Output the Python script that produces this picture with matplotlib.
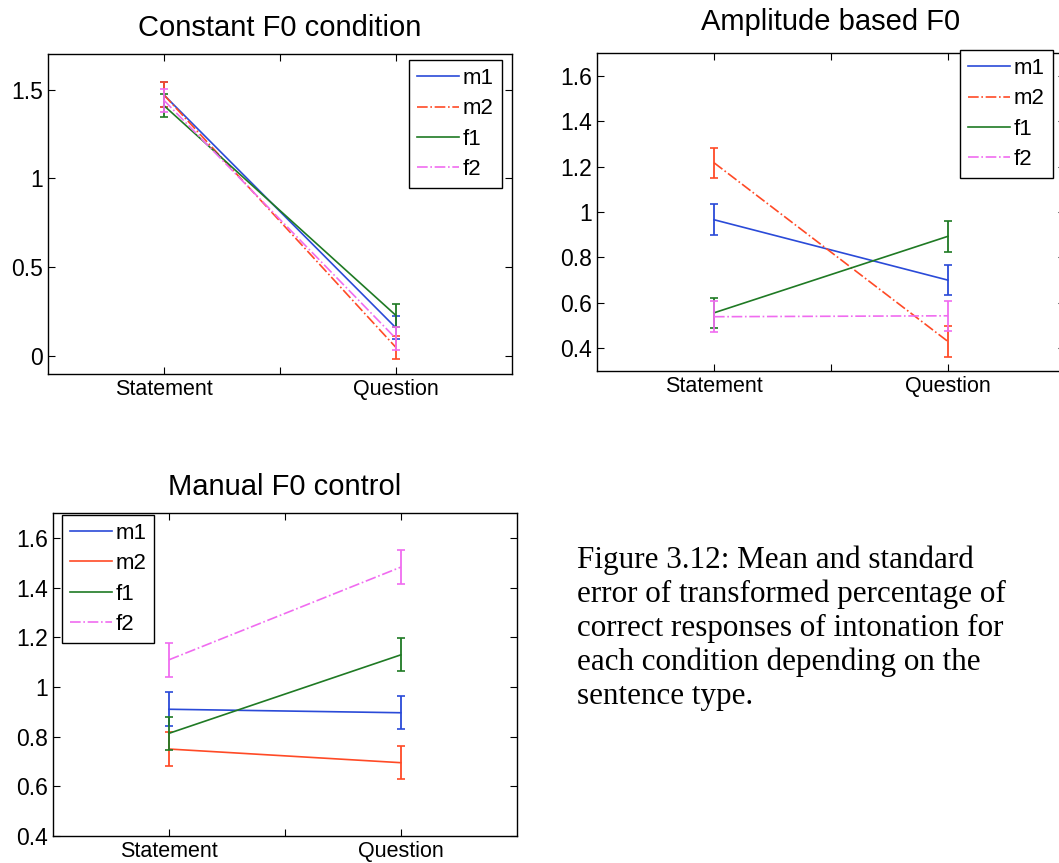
import matplotlib
matplotlib.use("Agg")
import matplotlib.pyplot as plt

plt.rcParams['font.family'] = ['Liberation Sans', 'DejaVu Sans']

# Data
conditions = ["Statement", "Question"]
speakers = ["m1", "m2", "f1", "f2"]

const_mean = {"m1": [1.47, 0.16], "m2": [1.47, 0.05], "f1": [1.41, 0.23], "f2": [1.44, 0.10]}
const_err = {"m1": [0.07, 0.065], "m2": [0.07, 0.065], "f1": [0.065, 0.065], "f2": [0.065, 0.065]}

ampl_mean = {"m1": [0.966, 0.70], "m2": [1.217, 0.43], "f1": [0.556, 0.893], "f2": [0.539, 0.543]}
ampl_err = {"m1": [0.067, 0.067], "m2": [0.066, 0.067], "f1": [0.066, 0.067], "f2": [0.067, 0.067]}

manual_mean = {"m1": [0.91, 0.896], "m2": [0.75, 0.695], "f1": [0.813, 1.129], "f2": [1.109, 1.482]}
manual_err = {"m1": [0.068, 0.066], "m2": [0.067, 0.066], "f1": [0.067, 0.066], "f2": [0.068, 0.067]}

colors = {"m1": "#2a4ad8", "m2": "#ff4a26", "f1": "#1f7a24", "f2": "#f06cf0"}

caption = ("Figure 3.12: Mean and standard\n"
           "error of transformed percentage of\n"
           "correct responses of intonation for\n"
           "each condition depending on the\n"
           "sentence type.")

fig = plt.figure(figsize=(10.59, 8.63), dpi=100)


def panel(rect, title, means, errs, styles, ylim, yticks, yticklabels, leg_loc, leg_anchor, pad=13):
    ax = fig.add_axes(rect)
    x = [1, 2]
    for s in speakers:
        ax.plot(x, means[s], color=colors[s], linestyle=styles[s], linewidth=1.2, label=s)
        ax.errorbar(x, means[s], yerr=errs[s], fmt='none', ecolor=colors[s],
                    elinewidth=1.3, capsize=3, capthick=1.2)
    ax.set_xlim(0.5, 2.5)
    ax.set_ylim(*ylim)
    ax.set_xticks([1, 1.5, 2])
    ax.set_xticklabels(["Statement", "", "Question"], fontsize=15.5)
    ax.set_yticks(yticks)
    ax.set_yticklabels(yticklabels, fontsize=16.5)
    ax.tick_params(direction="in", top=True, right=True, length=5, width=0.8)
    for sp in ax.spines.values():
        sp.set_linewidth(1.0)
    ax.set_title(title, fontsize=21, pad=pad)
    leg = ax.legend(loc=leg_loc, bbox_to_anchor=leg_anchor, fontsize=16, fancybox=False,
                    edgecolor="black", framealpha=1, borderaxespad=0, handlelength=1.9,
                    labelspacing=0.42, borderpad=0.36, handletextpad=0.15)
    leg.get_frame().set_linewidth(1.0)
    return ax


styles12 = {"m1": "-", "m2": "-.", "f1": "-", "f2": "-."}
styles3 = {"m1": "-", "m2": "-", "f1": "-", "f2": "-."}

panel([0.0453, 0.5666, 0.438, 0.3708], "Constant F0 condition", const_mean, const_err, styles12,
      (-0.1, 1.7), [0, 0.5, 1, 1.5], ["0", "0.5", "1", "1.5"], "upper right", (0.978, 0.981))

panel([0.5637, 0.5701, 0.4419, 0.3685], "Amplitude based F0", ampl_mean, ampl_err, styles12,
      (0.3, 1.7), [0.4, 0.6, 0.8, 1, 1.2, 1.4, 1.6], ["0.4", "0.6", "0.8", "1", "1.2", "1.4", "1.6"],
      "upper right", (0.974, 1.009), pad=16.5)

panel([0.05, 0.0313, 0.438, 0.3743], "Manual F0 control", manual_mean, manual_err, styles3,
      (0.4, 1.7), [0.4, 0.6, 0.8, 1, 1.2, 1.4, 1.6], ["0.4", "0.6", "0.8", "1", "1.2", "1.4", "1.6"],
      "upper left", (0.019, 0.994))

fig.text(577 / 1059, 1 - 545 / 863, caption, ha="left", va="top", fontsize=22.4,
         family="Liberation Serif", linespacing=1.22)

fig.savefig("out.png", dpi=100)
